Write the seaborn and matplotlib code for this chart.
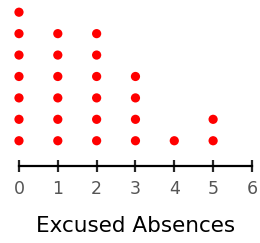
import numpy as np
import pandas as pd
import seaborn as sns
import matplotlib.pyplot as plt

# excused absences and how many students had each
absences = [0, 1, 2, 3, 4, 5, 6]
counts = [7, 6, 6, 4, 1, 2, 0]

# one row per dot, stacked upward
rows = []
for a, c in zip(absences, counts):
    for k in range(c):
        rows.append({'Absences': a, 'Level': k + 1})
df = pd.DataFrame(rows)

sns.set_style('white')
plt.rcParams['font.family'] = ['DejaVu Sans']

fig = plt.figure(figsize=(2.6, 2.43), dpi=100)
ax = fig.add_axes([0.073, 0.315, 0.896, 0.685])

sns.scatterplot(data=df, x='Absences', y='Level', color='#ff0000', s=44,
                edgecolor='none', legend=False, ax=ax, clip_on=False)

ax.set_xlim(0, 6)
ax.set_ylim(-0.2, 7.57)
ax.set_xticks(absences)
ax.set_yticks([])
ax.set_ylabel('')
ax.set_xlabel('Excused Absences', fontsize=15.5, color='black', labelpad=13)
for s in ['top', 'left', 'right']:
    ax.spines[s].set_visible(False)
ax.spines['bottom'].set_linewidth(1.6)
ax.spines['bottom'].set_color('black')
ax.tick_params(axis='x', direction='inout', length=8, width=1.6,
               labelsize=12.5, labelcolor='#555555', pad=6, bottom=True)

fig.savefig('out.png', dpi=100)
